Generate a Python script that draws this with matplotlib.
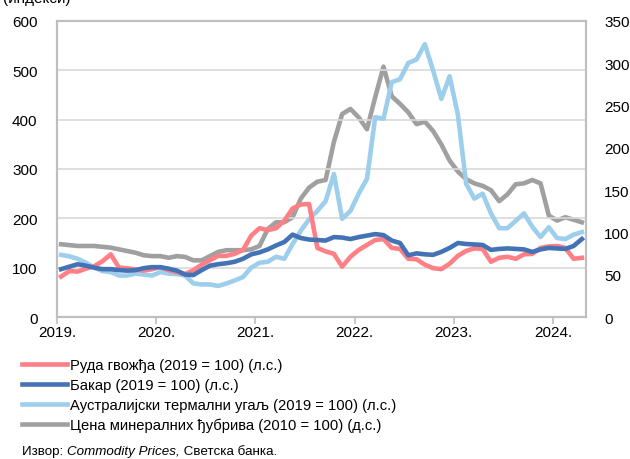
import matplotlib
matplotlib.use("Agg")
import matplotlib.pyplot as plt
import numpy as np

plt.rcParams['font.family'] = ['Liberation Sans', 'DejaVu Sans']

# Monthly observations, January 2019 - April 2024
year_labels = ["2019.", "2020.", "2021.", "2022.", "2023.", "2024."]

iron_ore = [82, 93, 92, 98, 103, 113, 127, 100, 99, 96, 94, 97,
            101, 95, 91, 87, 95, 106, 115, 124, 124, 128, 136, 165,
            180, 176, 180, 195, 220, 228, 229, 140, 133, 128, 102, 122,
            136, 146, 156, 158, 140, 138, 118, 117, 106, 99, 97, 108,
            124, 134, 139, 138, 112, 120, 122, 118, 127, 128, 140, 143,
            144, 140, 118, 120]

copper = [97, 102, 107, 104, 100, 97, 97, 95, 94, 95, 99, 101,
          101, 98, 94, 86, 85, 95, 104, 107, 109, 112, 118, 127,
          131, 137, 145, 152, 167, 160, 157, 156, 155, 162, 161, 158,
          162, 165, 168, 166, 155, 150, 125, 129, 127, 126, 132, 140,
          150, 148, 147, 146, 136, 138, 139, 138, 137, 132, 137, 140,
          139, 138, 144, 158]

coal = [126, 123, 118, 110, 100, 93, 91, 84, 84, 88, 86, 84,
        91, 88, 87, 84, 68, 66, 66, 63, 68, 74, 81, 100,
        110, 112, 122, 118, 148, 175, 198, 215, 235, 290, 199, 215,
        250, 280, 405, 402, 476, 482, 515, 522, 553, 500, 442, 488,
        410, 270, 240, 250, 210, 180, 180, 195, 210, 183, 162, 182,
        160, 158, 167, 172]

fertilizer = [86, 85, 84, 84, 84, 83, 82, 80, 78, 76, 73, 72,
              72, 70, 72, 71, 67, 67, 72, 77, 79, 79, 79, 80,
              84, 104, 112, 112, 118, 140, 153, 160, 162, 207, 240, 246,
              236, 222, 260, 296, 261, 252, 242, 228, 231, 220, 204, 185,
              172, 163, 158, 155, 150, 137, 145, 157, 158, 162, 158, 120,
              114, 118, 115, 112]

labels = ["Руда гвожђа (2019 = 100) (л.с.)",
          "Бакар (2019 = 100) (л.с.)",
          "Аустралијски термални угаљ (2019 = 100) (л.с.)",
          "Цена минералних ђубрива (2010 = 100) (д.с.)"]

colors = {"iron": "#FF7F87", "copper": "#4473B5",
          "coal": "#9DCEEC", "fert": "#A0A0A0"}

n = len(iron_ore)
x = np.arange(n) + 0.5

fig = plt.figure(figsize=(6.3, 4.6), dpi=100)
ax = fig.add_axes([57 / 630, 1 - 318 / 460, (586 - 57) / 630, (318 - 22) / 460])
ax2 = ax.twinx()

lw = 3.3
l1, = ax.plot(x, iron_ore, color=colors["iron"], lw=lw, solid_joinstyle="round", zorder=3)
l2, = ax.plot(x, copper, color=colors["copper"], lw=lw, solid_joinstyle="round", zorder=4)
l3, = ax.plot(x, coal, color=colors["coal"], lw=lw, solid_joinstyle="round", zorder=2)
l4, = ax2.plot(x, fertilizer, color=colors["fert"], lw=lw, solid_joinstyle="round")

# put the left-axis lines above the right-axis line
ax.set_zorder(ax2.get_zorder() + 1)
ax.patch.set_visible(False)

ax.set_xlim(0, n)
ax.set_ylim(0, 600)
ax.set_yticks(np.arange(0, 601, 100))
ax2.set_ylim(0, 350)
ax2.set_yticks(np.arange(0, 351, 50))

ax.set_xticks(np.arange(0, n, 12))
ax.set_xticklabels(year_labels)

ax.grid(axis="y", color="#D9D9D9", lw=1.2)
ax.set_axisbelow(True)

spine_c = "#BFBFBF"
for a in (ax, ax2):
    for s in a.spines.values():
        s.set_color(spine_c)
        s.set_linewidth(1.5)

fs = 11
ax.tick_params(axis="y", length=0, pad=14, labelsize=fs, colors="black")
ax.tick_params(axis="x", length=5, width=1.2, color=spine_c, pad=1, labelsize=fs)
ax2.tick_params(axis="y", length=0, pad=13, labelsize=fs)

# unit label at the top, mostly above the canvas edge
fig.text(3 / 630, 1 + 1 / 460, "(индекси)", fontsize=fs, ha="left", va="center")

# legend
leg_fs = 10.6
leg = fig.legend([l1, l2, l3, l4], labels, loc="upper left",
                 bbox_to_anchor=(22 / 630, 1 - 359 / 460), frameon=False,
                 fontsize=leg_fs, handlelength=3.05, handletextpad=0.22,
                 labelspacing=0.4, borderaxespad=0, borderpad=0)

# source note with an italic publication title
fig.canvas.draw()
r = fig.canvas.get_renderer()
parts = [("Извор: ", "normal"), ("Commodity Prices,", "italic"), (" Светска банка.", "normal")]
xpos = 22 / 630
ypos = 1 - 452 / 460
for txt, style in parts:
    t = fig.text(xpos, ypos, txt, fontsize=9.6, style=style, ha="left", va="center")
    bb = t.get_window_extent(renderer=r)
    xpos += bb.width / fig.bbox.width

fig.savefig("out.png", dpi=100)
